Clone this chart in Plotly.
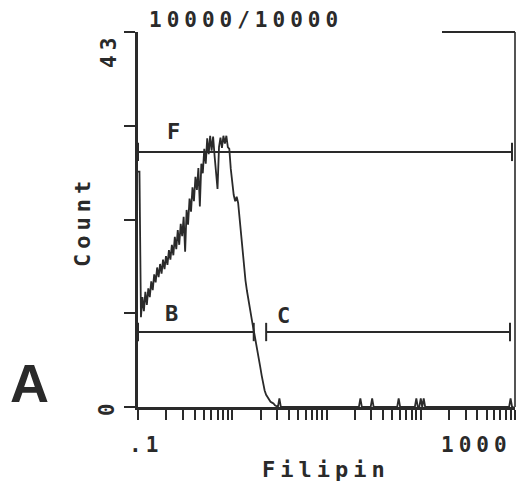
import plotly.graph_objects as go

# ---- data -------------------------------------------------------------
# Filipin fluorescence histogram: 256 log-scaled channels covering 0.1 .. 1000
N_CHANNELS = 256
X_MIN_EXP = -1
DECADES = 4

# counts in the populated low channels (channel 0 upward)
low_channel_counts = [
    27.0, 27.0, 10.3, 12.6, 11.0, 13.2, 11.7, 13.6, 12.6, 14.4,
    13.4, 15.2, 14.3, 16.0, 14.9, 16.4, 15.3, 16.9, 15.8, 17.3,
    16.3, 18.0, 16.9, 18.6, 17.4, 19.5, 18.1, 20.3, 18.6, 21.0,
    19.6, 21.8, 17.8, 22.6, 20.9, 23.9, 22.4, 25.2, 23.6, 26.4,
    24.9, 27.4, 23.0, 27.9, 26.8, 29.6, 27.9, 30.8, 29.0, 31.1,
    29.4, 31.0, 28.8, 27.2, 25.0, 29.8, 30.9, 29.7, 31.1, 30.2,
    31.1, 29.8, 29.6, 27.3, 25.6, 24.3, 23.6, 24.1, 23.4, 21.6,
    19.8, 17.6, 15.6, 14.5, 13.3, 12.2, 11.0, 10.4, 9.3, 8.4,
    7.5, 6.7, 5.9, 4.6, 3.6, 2.7, 1.9, 1.4, 1.1, 0.9,
    0.6, 0.5, 0.4, 0.2, 0.1, 0.0, 1.0, 0.0,
]
# isolated events higher up the scale
tail_channels = [151, 159, 177, 189, 192, 194, 253]
tail_counts = [1, 1, 1, 1, 1, 1, 1]

# analysis gates: name, lower / upper fluorescence bound, drawing level (count)
gate_names = ["F", "B", "C"]
gate_lo = [0.1, 0.1, 2.29]
gate_hi = [929.0, 1.69, 885.0]
gate_level = [29.25, 8.6, 8.6]

Y_MAX = 43
y_tick_values = [0, 10.75, 21.5, 32.25, 43]
x_tick_labels = [".1", "1000"]
y_tick_labels = ["0", "43"]
title_text = "10000/10000"
x_title = "Filipin"
y_title = "Count"
panel_letter = "A"

# ---- styling ----------------------------------------------------------
INK = "#2a2a2a"
MONO = "DejaVu Sans Mono"
W, H = 517, 491
L, R, T, B = 138, 2, 32, 84


def spaced(text, gap):
    return '<span style="letter-spacing:%spx">%s</span>' % (gap, text)


def px_x(p):
    return (p - L) / (W - L - R)


def px_y(p):
    return (H - B - p) / (H - T - B)


# ---- histogram --------------------------------------------------------
counts = [0.0] * N_CHANNELS
counts[:len(low_channel_counts)] = low_channel_counts
for ch, n in zip(tail_channels, tail_counts):
    counts[ch] = n
channel_values = [10 ** (X_MIN_EXP + DECADES * i / N_CHANNELS) for i in range(N_CHANNELS)]

fig = go.Figure()
fig.add_trace(go.Scatter(
    x=channel_values, y=counts, mode="lines",
    line=dict(color=INK, width=1.8), hoverinfo="skip", showlegend=False,
))

# gate bars with end caps
cap = 1.05
for name, lo, hi, lvl in zip(gate_names, gate_lo, gate_hi, gate_level):
    fig.add_trace(go.Scatter(
        x=[lo, hi, None, lo, lo, None, hi, hi],
        y=[lvl, lvl, None, lvl - cap, lvl + cap, None, lvl - cap, lvl + cap],
        mode="lines", line=dict(color=INK, width=2),
        hoverinfo="skip", showlegend=False,
    ))

# ---- axes -------------------------------------------------------------
x_ticks = []
for e in range(X_MIN_EXP, X_MIN_EXP + DECADES):
    for k in range(1, 10):
        x_ticks.append(k * 10 ** e)
x_ticks.append(10 ** (X_MIN_EXP + DECADES))

fig.update_xaxes(
    type="log", range=[X_MIN_EXP, X_MIN_EXP + DECADES],
    showline=True, linewidth=3, linecolor=INK,
    ticks="outside", ticklen=10, tickwidth=2, tickcolor=INK,
    tickvals=x_ticks, ticktext=[""] * len(x_ticks),
    showgrid=False, zeroline=False,
)
fig.update_yaxes(
    range=[0, Y_MAX],
    showline=True, linewidth=3, linecolor=INK,
    ticks="outside", ticklen=11, tickwidth=2, tickcolor=INK,
    tickvals=y_tick_values, ticktext=[""] * len(y_tick_values),
    showgrid=False, zeroline=False,
)

# right frame edge and the short top rule
fig.add_shape(type="line", xref="paper", yref="paper", x0=1, x1=1, y0=0, y1=1,
              line=dict(color=INK, width=1.6))
fig.add_shape(type="line", xref="paper", yref="paper", x0=px_x(442), x1=1, y0=1, y1=1,
              line=dict(color=INK, width=2))

# ---- text -------------------------------------------------------------
def label(text, cx, cy, size=21, gap=5, angle=0, family=MONO, weight="bold"):
    fig.add_annotation(
        text=spaced(text, gap) if gap else text,
        x=px_x(cx), y=px_y(cy), xref="paper", yref="paper",
        xanchor="center", yanchor="middle", showarrow=False, textangle=angle,
        font=dict(family=family, size=size, color=INK, weight=weight),
    )


label(title_text, 246, 20, size=21, gap=5)
label(x_title, 326, 469, size=22, gap=5)
label(y_title, 83, 222, size=22, gap=5, angle=-90)
label(x_tick_labels[0], 145, 445, size=21, gap=4)
label(x_tick_labels[1], 476, 445, size=21, gap=5)
label(y_tick_labels[0], 107, 410, size=21, gap=0, angle=-90)
label(y_tick_labels[1], 109, 51, size=21, gap=5, angle=-90)
label(gate_names[0], 173.5, 131.5, size=22, gap=0)
label(gate_names[1], 171.5, 313.5, size=22, gap=0)
label(gate_names[2], 283.5, 315, size=22, gap=0)
label(panel_letter, 30, 382.5, size=54, gap=0, family="Liberation Sans")

fig.update_layout(
    width=W, height=H,
    margin=dict(l=L, r=R, t=T, b=B, pad=0),
    paper_bgcolor="white", plot_bgcolor="white",
    showlegend=False,
)

fig.write_html("out.html")
